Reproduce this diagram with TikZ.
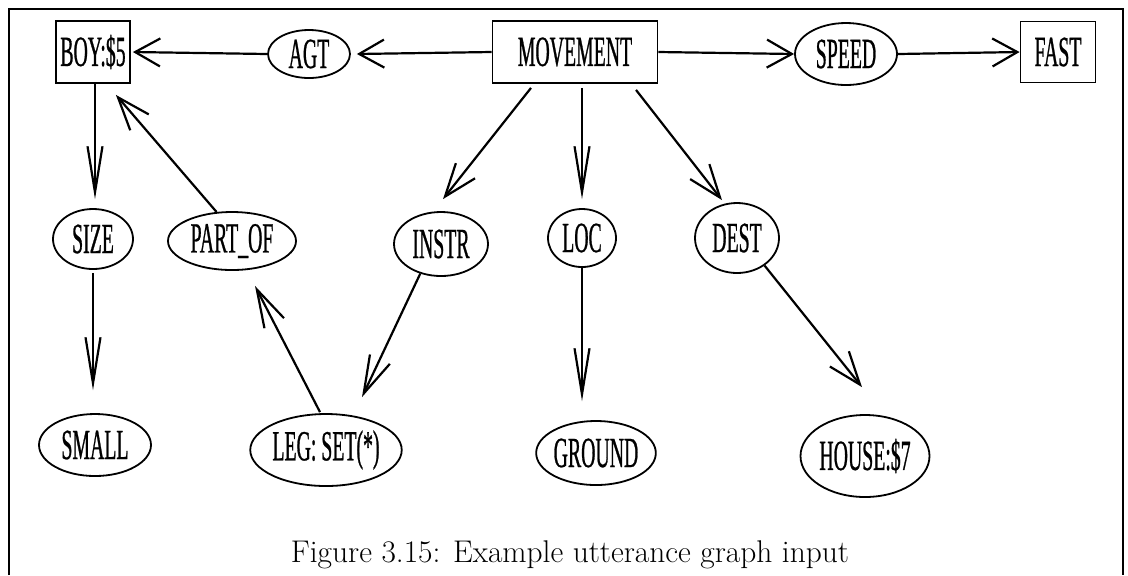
\documentclass[tikz,border=0pt]{standalone}
\usepackage{fontspec}
\newfontfamily\nodefont[FakeStretch=0.46,FakeBold=0.6]{Liberation Serif}
\usetikzlibrary{shapes.geometric,arrows.meta,calc}
\begin{document}
\begin{tikzpicture}[x=0.5pt,y=-0.5pt,
  every node/.style={inner sep=0pt},
  lbl/.style={font=\nodefont\fontsize{21.5}{23}\selectfont},
  boxnode/.style={lbl,draw,rectangle,line width=0.9pt},
  ellnode/.style={lbl,draw,ellipse,line width=0.9pt},
  con/.style={line width=1.1pt},
  arrH/.style={-{Straight Barb[length=12.5pt,width=14pt]}},
  arrV/.style={-{Straight Barb[length=23pt,width=7.5pt]}},
  arrDa/.style={-{Straight Barb[length=16.5pt,width=12.2pt]}},
  arrDb/.style={-{Straight Barb[length=19pt,width=11pt]}},
  frame/.style={line width=0.7pt}]
\useasboundingbox (0,0) rectangle (1128,575);
\draw[frame] (9,575) -- (9,9) -- (1123,9) -- (1123,575);
% top row
\node[boxnode,minimum width=37pt,minimum height=31pt] (boy) at (93,52) {BOY:\$5};
\node[ellnode,minimum width=41pt,minimum height=24pt] (agt) at (309,54) {AGT};
\node[boxnode,minimum width=82.5pt,minimum height=31pt] (mov) at (575,52) {MOVEMENT};
\node[ellnode,minimum width=51pt,minimum height=31pt] (speed) at (846,54) {SPEED};
\node[boxnode,minimum width=37.5pt,minimum height=30.5pt] (fast) at (1058,52) {FAST};
% middle row
\node[ellnode,minimum width=40pt,minimum height=30pt] (size) at (93,239) {SIZE};
\node[ellnode,minimum width=64pt,minimum height=29pt] (partof) at (232,241) {PART\_OF};
\node[ellnode,minimum width=47pt,minimum height=32pt] (instr) at (441,244) {INSTR};
\node[ellnode,minimum width=34pt,minimum height=29pt] (loc) at (582,238) {LOC};
\node[ellnode,minimum width=42pt,minimum height=35pt] (dest) at (737,238) {DEST};
% bottom row
\node[ellnode,minimum width=56pt,minimum height=31pt] (small) at (95,445) {SMALL};
\node[ellnode,minimum width=72pt,minimum height=36pt] (leg) at (326,450) {LEG: SET(*)};
\node[ellnode,minimum width=55pt,minimum height=32pt] (ground) at (596,453) {GROUND};
\node[ellnode,minimum width=62pt,minimum height=41pt] (house) at (865,456) {HOUSE:\$7};
% connectors
\draw[con,arrH] (mov.west) -- ($(agt.east)+(6,0)$);
\draw[con,arrH] (agt.west) -- ($(boy.east)+(2,0)$);
\draw[con,arrH] (mov.east) -- (speed.west);
\draw[con,arrH] (speed.east) -- (fast.west);
\draw[con,arrV] ($(boy.south)+(2,0)$) -- ($(size.north)+(2,-9)$);
\draw[con,arrDa] (partof.118) -- ($(boy.south east)+(-15,11)$);
\draw[con,arrDa] ($(mov.south)+(-44,4)$) -- ($(instr.north)+(2,-12)$);
\draw[con,arrV] ($(mov.south)+(7,4)$) -- ($(loc.north)+(0,-9)$);
\draw[con,arrDa] ($(mov.south)+(61,6)$) -- ($(dest.north)+(-15,-2)$);
\draw[con,arrV] ($(size.south)+(0,3)$) -- ($(size.south |- small.north)+(0,-23)$);
\draw[con,arrDb] (instr.235) -- ($(leg.north)+(36,-16)$);
\draw[con,arrDb] ($(leg.north)+(-6,-1)$) -- ($(partof.south)+(23,15)$);
\draw[con,arrV] (loc.south) -- ($(loc.south |- ground.north)+(0,-19)$);
\draw[con,arrDa] (dest.-45) -- ($(house.north)+(-3,-27)$);
% caption
\node[font=\fontsize{15.7}{18}\selectfont,anchor=base] (cap) at (570,562) {Figure 3.15: Example utterance graph input};
\end{tikzpicture}
\end{document}
